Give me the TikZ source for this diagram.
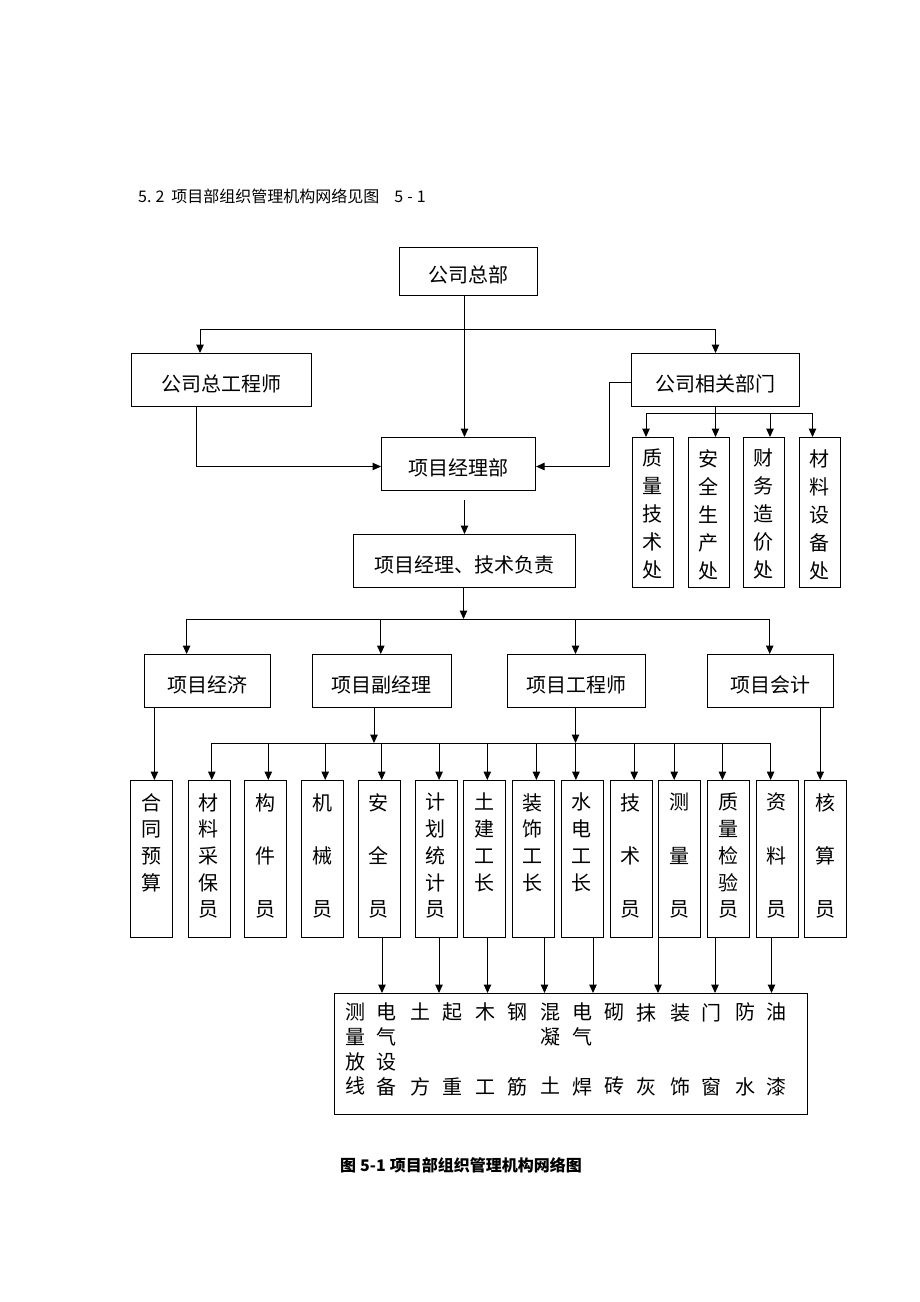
\documentclass[tikz,border=0pt]{standalone}
\usepackage{fontspec}
\setmainfont{Noto Sans CJK SC}
\usetikzlibrary{arrows.meta}
\begin{document}
\begin{tikzpicture}[x=1pt,y=-1pt,
  box/.style={draw, line width=1.1pt, inner sep=0pt, anchor=north west,
    font=\fontsize{20}{24}\selectfont, text height=22pt, text depth=0pt},
  vbox/.style={draw, line width=1.1pt, inner sep=0pt, anchor=north west},
  vtxt/.style={anchor=north, inner sep=0pt, align=center, font=\fontsize{20}{26.7}\selectfont},
  dtxt/.style={anchor=north, inner sep=0pt, align=center, font=\fontsize{20}{28}\selectfont},
  btxt/.style={anchor=north, inner sep=0pt, align=center, font=\fontsize{20}{24.7}\selectfont},
  arr/.style={line width=1pt, -{Triangle[length=8.5pt,width=7.5pt]}},
  ln/.style={line width=1pt}]
\fill[white] (0,0) rectangle (920,1302);
\useasboundingbox (0,0) rectangle (920,1302);

% title and caption
\node[anchor=west, inner sep=0pt, font=\fontsize{16}{18}\selectfont] (title) at (138,196) {5.\hspace{4pt}2\hspace{7pt}项目部组织管理机构网络见图\hspace{15pt}5\hspace{4pt}-\hspace{4pt}1};
\node[inner sep=0pt, font=\fontsize{16}{18}\selectfont\bfseries] (caption) at (461,1165) {图\hspace{4pt}5-1\hspace{4pt}项目部组织管理机构网络图};

% top level
\node[box, minimum width=138pt, minimum height=48pt] (zb) at (399,247) {公司总部};
\node[box, minimum width=180pt, minimum height=53pt] (zg) at (131,353) {公司总工程师};
\node[box, minimum width=168pt, minimum height=53pt] (xg) at (631,353) {公司相关部门};
\node[box, minimum width=154pt, minimum height=53pt] (xm) at (381,437) {项目经理部};
\node[box, minimum width=222pt, minimum height=53pt] (xf) at (353,534) {项目经理、技术负责};

% departments
\node[vbox, minimum width=41pt, minimum height=150pt] (d1) at (632,437) {};
\node[vbox, minimum width=41pt, minimum height=150pt] (d2) at (688,437) {};
\node[vbox, minimum width=41pt, minimum height=150pt] (d3) at (743,437) {};
\node[vbox, minimum width=41pt, minimum height=150pt] (d4) at (799,437) {};
\node[dtxt] (d1t) at (652.5,449) {质\\量\\技\\术\\处};
\node[dtxt] (d2t) at (708.5,449) {安\\全\\生\\产\\处};
\node[dtxt] (d3t) at (763.5,449) {财\\务\\造\\价\\处};
\node[dtxt] (d4t) at (819.5,449) {材\\料\\设\\备\\处};

% second level
\node[box, minimum width=126pt, minimum height=53pt] (p1) at (144,654) {项目经济};
\node[box, minimum width=139pt, minimum height=53pt] (p2) at (311.5,654) {项目副经理};
\node[box, minimum width=138pt, minimum height=53pt] (p3) at (506.5,654) {项目工程师};
\node[box, minimum width=126pt, minimum height=53pt] (p4) at (707,654) {项目会计};

% staff boxes
\foreach \n/\x/\t in {
  1/130/{合\\同\\预\\算},
  2/187.5/{材\\料\\采\\保\\员},
  3/244/{构\\[26.7pt]件\\[26.7pt]员},
  4/301/{机\\[26.7pt]械\\[26.7pt]员},
  5/357.5/{安\\[26.7pt]全\\[26.7pt]员},
  6/414.5/{计\\划\\统\\计\\员},
  7/463/{土\\建\\工\\长},
  8/511.5/{装\\饰\\工\\长},
  9/560.5/{水\\电\\工\\长},
  10/609.5/{技\\[26.7pt]术\\[26.7pt]员},
  11/658/{测\\[26.7pt]量\\[26.7pt]员},
  12/707/{质\\量\\检\\验\\员},
  13/755.5/{资\\[26.7pt]料\\[26.7pt]员},
  14/804/{核\\[26.7pt]算\\[26.7pt]员}}{
  \node[vbox, minimum width=42pt, minimum height=157pt] (v\n) at (\x,780) {};
  \node[vtxt] (v\n t) at (\x+21,793) {\t};
}

% bottom box
\node[vbox, minimum width=473pt, minimum height=121pt] (bb) at (334,993) {};
\foreach \n/\x/\t in {
  1/355.7/{测\\量\\放\\线},
  2/386.7/{电\\气\\设\\备},
  3/420/{土\\[49.4pt]方},
  4/452.3/{起\\[49.4pt]重},
  5/485.7/{木\\[49.4pt]工},
  6/517.7/{钢\\[49.4pt]筋},
  7/550/{混\\凝\\[24.7pt]土},
  8/582.3/{电\\气\\[24.7pt]焊},
  9/614.3/{砌\\[49.4pt]砖},
  10/646.7/{抹\\[49.4pt]灰},
  11/680/{装\\[49.4pt]饰},
  12/711.7/{门\\[49.4pt]窗},
  13/745/{防\\[49.4pt]水},
  14/776.7/{油\\[49.4pt]漆}}{
  \node[btxt] (c\n) at (\x,1003) {\t};
}

% connectors: top
\draw[arr] (464.5,0 |- zb.south) -- (464.5,0 |- xm.north);
\coordinate (j1) at (464.5,329.5);
\draw[arr] (j1) -| (200,0 |- zg.north);
\draw[arr] (j1) -| (715.5,0 |- xg.north);
\draw[arr] (196,0 |- zg.south) |- (xm.west |- 0,466.5);
\draw[arr] (xg.west |- 0,382.5) -- (609.5,382.5) |- (xm.east |- 0,466.5);
% departments
\coordinate (j2) at (715.5,413.5);
\draw[ln] (715.5,0 |- xg.south) -- (j2);
\draw[ln] (646,413.5) -- (812.5,413.5);
\draw[arr] (646,413.5) -- (646,0 |- d1.north);
\draw[arr] (715.5,413.5) -- (715.5,0 |- d2.north);
\draw[arr] (770,413.5) -- (770,0 |- d3.north);
\draw[arr] (812.5,413.5) -- (812.5,0 |- d4.north);
% xm -> xf
\draw[arr] (464.5,500) -- (464.5,0 |- xf.north);
% xf -> bus
\coordinate (j3) at (463.5,619);
\draw[arr] (463.5,0 |- xf.south) -- (j3);
\draw[ln] (186.6,619) -- (769.7,619);
\draw[arr] (186.6,619) -- (186.6,0 |- p1.north);
\draw[arr] (380.8,619) -- (380.8,0 |- p2.north);
\draw[arr] (575.5,619) -- (575.5,0 |- p3.north);
\draw[arr] (769.7,619) -- (769.7,0 |- p4.north);
% second level -> staff
\draw[arr] (154.4,0 |- p1.south) -- (154.4,0 |- v1.north);
\draw[arr] (820.2,0 |- p4.south) -- (820.2,0 |- v14.north);
\draw[arr] (374,0 |- p2.south) -- (374,743);
\draw[arr] (575.5,0 |- p3.south) -- (575.5,743);
\draw[ln] (211.8,743) -- (770.6,743);
\foreach \n/\x in {2/211.8,3/268.3,4/325.2,5/381.7,6/439.1,7/487.3,8/536.4,9/575.9,10/634.2,11/674.2,12/722.4,13/770.6}{
  \draw[arr] (\x,743) -- (\x,0 |- v\n.north);
}
% staff -> bottom box
\foreach \n/\x in {5/382,6/439,7/487.5,8/544.5,9/593,11/658,12/715,13/771.5}{
  \draw[arr] (\x,0 |- v\n.south) -- (\x,0 |- bb.north);
}
\end{tikzpicture}
\end{document}
